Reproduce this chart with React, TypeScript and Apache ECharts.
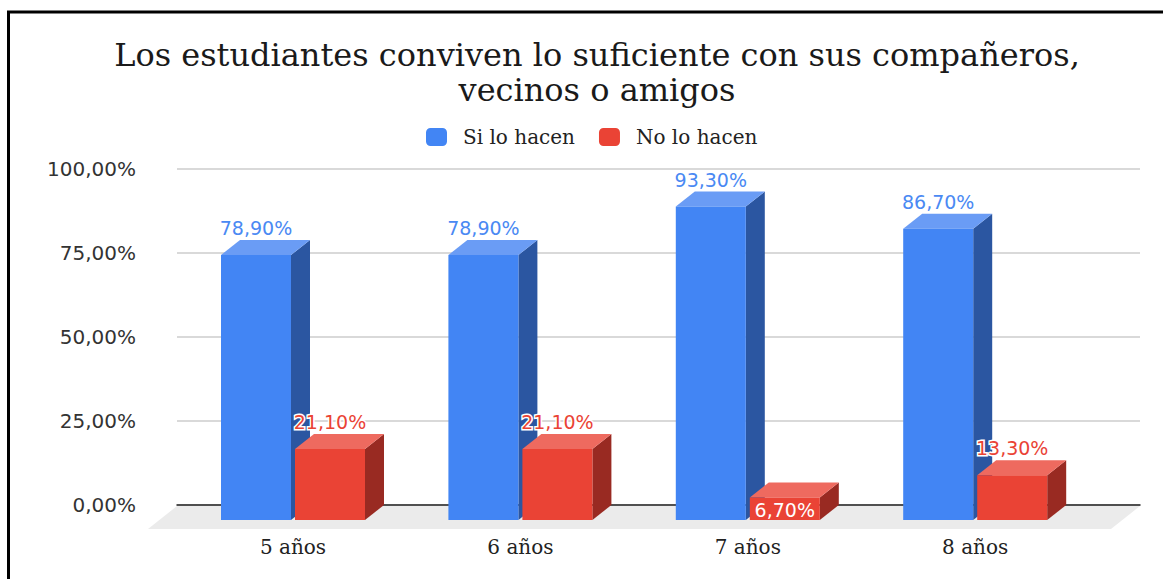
import React, { useEffect, useRef } from "react";
import * as echarts from "echarts";

const categories = ["5 años", "6 años", "7 años", "8 años"];
const siValues = [78.9, 78.9, 93.3, 86.7];
const noValues = [21.1, 21.1, 6.7, 13.3];
const seriesNames = ["Si lo hacen", "No lo hacen"];
const yTicks = [0, 25, 50, 75, 100];

const TITLE = "Los estudiantes conviven lo suficiente con sus compañeros,\nvecinos o amigos";

const DX = 19;
const DY = 15;
const BAR_RATIO = 70 / 227.4;
const GAP_RATIO = 4 / 227.4;

const palettes = [
  { front: "#4285f4", side: "#2b56a1", top: "#6a9cf5", label: "#4a89f3" },
  { front: "#ea4335", side: "#992a22", top: "#ee6a5f", label: "#ea4335" },
];

const fmt = (v: number) => v.toFixed(2).replace(".", ",") + "%";

function makeRenderItem(si: number) {
  return (params: any, api: any) => {
    const cat = api.value(0);
    const v = api.value(1);
    const [cx, yTop] = api.coord([cat, v]);
    const [, yBot] = api.coord([cat, 0]);
    const band = api.size([1, 0])[0];
    const w = band * BAR_RATIO;
    const gap = band * GAP_RATIO;
    const x = si === 0 ? cx - gap / 2 - w : cx + gap / 2;
    const p = palettes[si];
    const inside = yBot - yTop < 30;
    const children: any[] = [
      {
        type: "polygon",
        shape: { points: [[x + w, yTop], [x + w + DX, yTop - DY], [x + w + DX, yBot - DY], [x + w, yBot]] },
        style: { fill: p.side },
      },
      {
        type: "polygon",
        shape: { points: [[x, yTop], [x + w, yTop], [x + w + DX, yTop - DY], [x + DX, yTop - DY]] },
        style: { fill: p.top },
      },
      {
        type: "rect",
        shape: { x, y: yTop, width: w, height: yBot - yTop },
        style: { fill: p.front },
      },
      {
        type: "text",
        z2: 10,
        style: inside
          ? {
              text: fmt(v),
              x: x + w / 2,
              y: (yTop + yBot) / 2 + 1,
              align: "center",
              verticalAlign: "middle",
              fill: "#ffffff",
              font: "19px 'DejaVu Sans'",
            }
          : {
              text: fmt(v),
              x: x + w / 2,
              y: yTop - DY - 12,
              align: "center",
              verticalAlign: "middle",
              fill: p.label,
              stroke: "#ffffff",
              lineWidth: 3,
              font: "19px 'DejaVu Sans'",
            },
      },
    ];
    return { type: "group", children };
  };
}

export default function App() {
  const ref = useRef<HTMLDivElement>(null);
  useEffect(() => {
    if (!ref.current) return;
    const chart = echarts.init(ref.current, null, { renderer: "svg" });
    const option: any = {
      animation: false,
      backgroundColor: "#ffffff",
      title: {
        text: TITLE,
        left: 592,
        top: 32,
        textAlign: "center",
        textStyle: {
          fontFamily: "DejaVu Serif",
          fontSize: 32,
          fontWeight: "normal",
          color: "#1a1a1a",
          lineHeight: 35,
        },
      },
      legend: {
        left: 421,
        top: 122,
        itemWidth: 21,
        itemHeight: 18,
        itemGap: 24,
        icon: "roundRect",
        data: seriesNames,
        textStyle: {
          fontFamily: "DejaVu Serif",
          fontSize: 20,
          color: "#222222",
          padding: [0, 0, 0, 11],
        },
      },
      graphic: [
        {
          type: "polygon",
          z: -10,
          shape: { points: [[177, 506], [1140, 506], [1111, 529], [148, 529]] },
          style: { fill: "#ebebeb" },
        },
        {
          type: "rect",
          z: 100,
          shape: { x: 8.5, y: 12, width: 1200, height: 700 },
          style: { fill: "none", stroke: "#000000", lineWidth: 3 },
        },
      ],
      grid: [
        { left: 177, right: 23, top: 169, bottom: 74 },
        { left: 179.3, right: 74.1, top: 184, bottom: 59 },
      ],
      xAxis: [
        {
          type: "category",
          gridIndex: 0,
          data: categories,
          axisLine: { show: true, lineStyle: { color: "#222222", width: 1.5 } },
          axisTick: { show: false },
          axisLabel: { show: false },
          z: 1,
        },
        {
          type: "category",
          gridIndex: 1,
          data: categories,
          axisLine: { show: false },
          axisTick: { show: false },
          axisLabel: {
            margin: 17,
            fontFamily: "DejaVu Serif",
            fontSize: 20,
            color: "#222222",
          },
        },
      ],
      yAxis: [
        {
          type: "value",
          gridIndex: 0,
          min: 0,
          max: 100,
          interval: 25,
          axisLine: { show: false },
          axisTick: { show: false },
          splitLine: { lineStyle: { color: "#cccccc", width: 1.5 } },
          axisLabel: {
            margin: 41,
            fontFamily: "DejaVu Sans",
            fontSize: 20,
            color: "#333333",
            formatter: (v: number) => (yTicks.includes(v) ? fmt(v) : ""),
          },
        },
        {
          type: "value",
          gridIndex: 1,
          min: 0,
          max: 100,
          show: false,
        },
      ],
      series: [siValues, noValues].map((vals, si) => ({
        type: "custom",
        name: seriesNames[si],
        xAxisIndex: 1,
        yAxisIndex: 1,
        z: 5,
        itemStyle: { color: palettes[si].front },
        renderItem: makeRenderItem(si),
        encode: { x: 0, y: 1 },
        data: vals.map((v, i) => [i, v]),
      })),
    };
    chart.setOption(option);
    return () => chart.dispose();
  }, []);
  return (
    <div
      ref={ref}
      style={{ position: "absolute", left: 0, top: 0, width: 1163, height: 579 }}
    />
  );
}
